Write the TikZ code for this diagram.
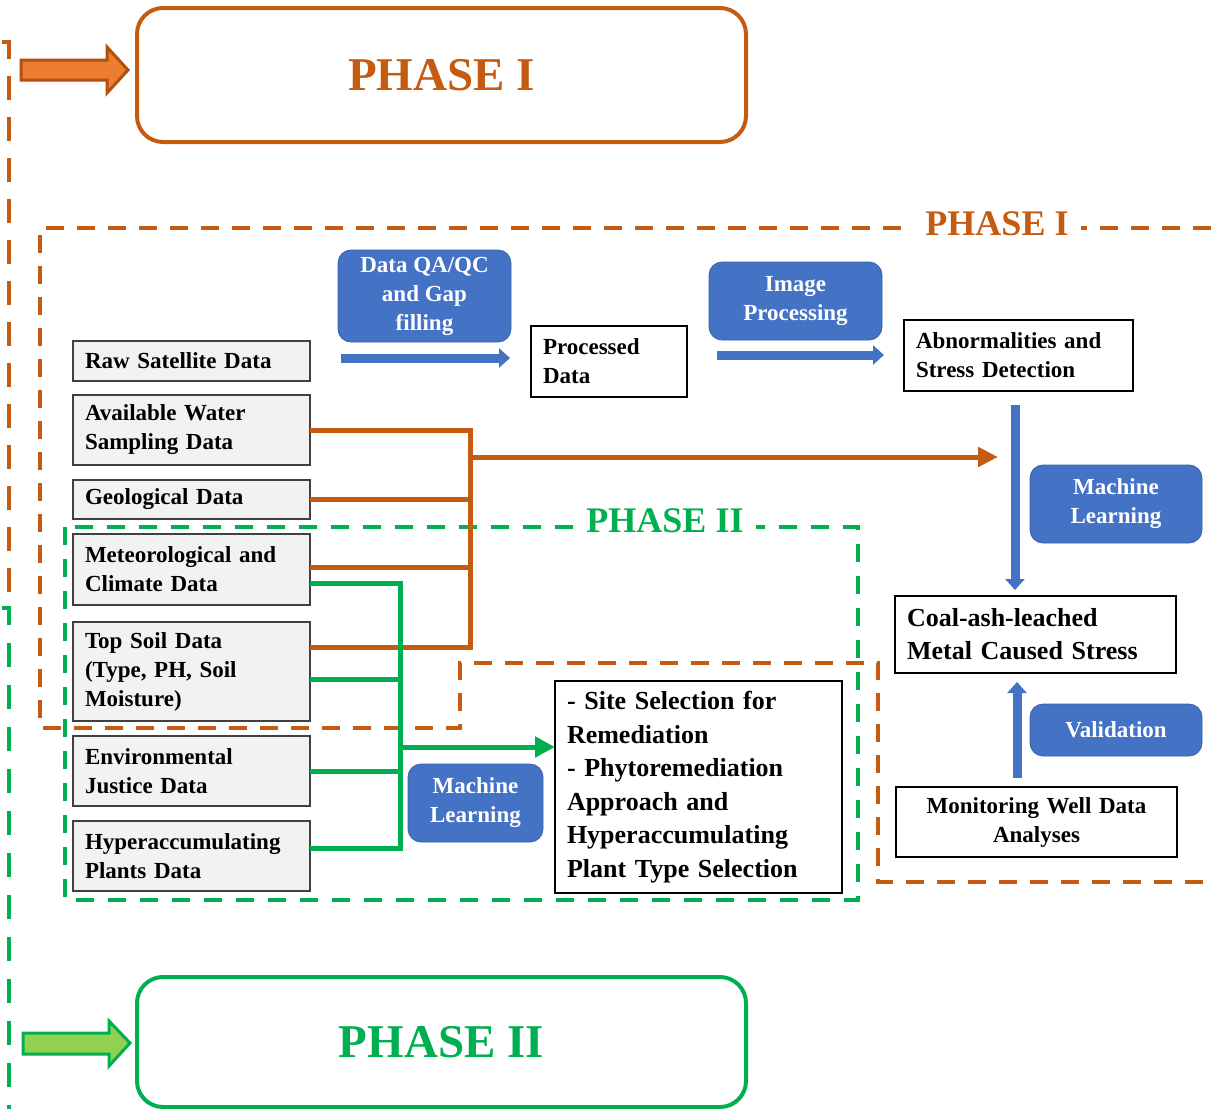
\documentclass[tikz,border=0pt]{standalone}
\usepackage{fontspec}
\setmainfont{Liberation Serif}
\usetikzlibrary{arrows.meta,positioning}
\definecolor{phaseorange}{HTML}{C55A11}
\definecolor{arroworange}{HTML}{ED7D31}
\definecolor{phasegreen}{HTML}{00B050}
\definecolor{arrowgreen}{HTML}{92D050}
\definecolor{boxblue}{HTML}{4472C4}
\definecolor{boxgray}{HTML}{F2F2F2}

\begin{document}
\begin{tikzpicture}[x=1pt,y=-1pt,node distance=15pt,
  font=\bfseries\fontsize{23}{29}\selectfont,
  data node/.style={draw=black!75,fill=boxgray,line width=1.2pt,align=left,
    text width=213pt,inner xsep=12pt,inner ysep=0pt,outer sep=0pt},
  out node/.style={draw=black,fill=white,line width=1.2pt,align=left,
    inner xsep=12pt,inner ysep=0pt,outer sep=0pt},
  blue node/.style={fill=boxblue,draw=boxblue!85!black,line width=0.8pt,
    rounded corners=13pt,text=white,align=center,inner sep=0pt},
  phase box/.style={line width=4pt,rounded corners=26pt,minimum width=609pt,
    font=\bfseries\fontsize{47}{56}\selectfont},
  phase tag/.style={fill=white,inner xsep=12pt,inner ysep=2pt,
    font=\bfseries\fontsize{36}{40}\selectfont},
  odash/.style={draw=phaseorange,line width=4pt,dash pattern=on 18pt off 13pt},
  gdash/.style={draw=phasegreen,line width=4pt,dash pattern=on 18pt off 14pt},
  oline/.style={draw=phaseorange,line width=5pt},
  gline/.style={draw=phasegreen,line width=5pt},
  blue arrow/.style={draw=boxblue,line width=9pt,-{Triangle[length=11pt,width=19pt]}}]

  \useasboundingbox (0,0) rectangle (1211,1109);

  \draw[odash,dash pattern=on 24pt off 17pt] (2,42) -- (9,42) -- (9,595) -- (0,595);
  \draw[gdash,dash pattern=on 24pt off 18pt] (2,608) -- (9,608) -- (9,1109);

  \node[phase box,draw=phaseorange,text=phaseorange,minimum height=134pt] (phase one) at (441.5,75) {PHASE I};
  \node[phase box,draw=phasegreen,text=phasegreen,minimum height=130pt] (phase two) at (441.5,1042) {PHASE II};
  \draw[line width=3pt,draw=phaseorange!90!black,fill=arroworange]
    (21,60) -- (107,60) -- (107,47) -- (128,70) -- (107,93) -- (107,80) -- (21,80) -- cycle;
  \draw[line width=3pt,draw=phasegreen,fill=arrowgreen]
    (23,1033) -- (109,1033) -- (109,1021) -- (130,1043) -- (109,1066) -- (109,1054) -- (23,1054) -- cycle;

  \draw[odash] (1211,228) -- (40,228) -- (40,728) -- (460,728) -- (460,663)
    -- (878,663) -- (878,882) -- (1211,882);
  \draw[gdash] (65,527) rectangle (858,900);
  \node[phase tag,text=phaseorange] (tag one) at (997,224) {PHASE I};
  \node[phase tag,text=phasegreen] (tag two) at (665,521) {PHASE II};

  \node[data node,minimum height=40pt] (raw) at (191.5,361) {Raw Satellite Data};
  \node[data node,minimum height=70pt,below=14pt of raw] (water) {Available Water\\Sampling Data};
  \node[data node,minimum height=39pt,below=of water] (geo) {Geological Data};
  \node[data node,minimum height=71pt,below=of geo] (met) {Meteorological and\\Climate Data};
  \node[data node,minimum height=99pt,below=17pt of met] (soil) {Top Soil Data\\(Type, PH, Soil\\Moisture)};
  \node[data node,minimum height=70pt,below=of soil] (ej) {Environmental\\Justice Data};
  \node[data node,minimum height=70pt,below=of ej] (hyper) {Hyperaccumulating\\Plants Data};

  \node[blue node,minimum width=173pt,minimum height=92pt] (qa) at (424.5,296) {Data QA/QC\\and Gap\\filling};
  \node[blue node,minimum width=173pt,minimum height=78pt] (imgproc) at (795.5,301) {Image\\Processing};
  \node[blue node,minimum width=172pt,minimum height=78pt] (ml right) at (1116,504) {Machine\\Learning};
  \node[blue node,minimum width=172pt,minimum height=52pt] (valid) at (1116,730) {Validation};
  \node[blue node,minimum width=135pt,minimum height=78pt] (ml low) at (475.5,803) {Machine\\Learning};

  \node[out node,text width=132pt,minimum height=71pt] (proc) at (609,361.5) {Processed\\Data};
  \node[out node,text width=205pt,minimum height=71pt] (abn) at (1018.5,355.5) {Abnormalities and\\Stress Detection};
  \node[out node,text width=257pt,minimum height=77pt,font=\bfseries\fontsize{26}{33}\selectfont]
    (coal) at (1035.5,634.5) {Coal-ash-leached\\Metal Caused Stress};
  \node[out node,text width=257pt,minimum height=70pt,align=center] (well) at (1036.5,822) {Monitoring Well Data\\Analyses};
  \node[out node,text width=263pt,minimum height=212pt,font=\bfseries\fontsize{26}{33.5}\selectfont]
    (site) at (698.5,787) {- Site Selection for\\Remediation\\- Phytoremediation\\Approach and\\Hyperaccumulating\\Plant Type Selection};

  \coordinate (obus top) at (470,430);
  \coordinate (obus bot) at (470,647);
  \coordinate (obus mid) at (470,457);
  \coordinate (gbus bot) at (400,848);
  \coordinate (gbus mid) at (400,747);
  \coordinate (qa a) at (341,358);
  \coordinate (img a) at (717,355);
  \coordinate (ml a) at (1015,405);
  \coordinate (val a) at (1017,778);

  \draw[oline] (water.east) -- (obus top) -- (obus bot) -- ([yshift=24.5pt]soil.east);
  \draw[oline] (geo.east) -- ++(160,0);
  \draw[oline] ([yshift=2.5pt]met.east) -- ++(160,0);
  \draw[oline,-{Triangle[length=20pt,width=19pt]},shorten >=17pt] (obus mid) -- (obus mid -| ml a);

  \draw[gline] ([yshift=-13.5pt]met.east) -| (gbus bot) -- ([yshift=8pt]hyper.east);
  \draw[gline] ([yshift=-7.5pt]soil.east) -- ++(90,0);
  \draw[gline] (ej.east) -- ++(90,0);
  \draw[gline,-{Triangle[length=20pt,width=20pt]}] (gbus mid) -- (gbus mid -| site.west);

  \draw[blue arrow,shorten >=21pt] (qa a) -- (qa a -| proc.west);
  \draw[blue arrow,shorten >=20pt] (img a) -- (img a -| abn.west);
  \draw[blue arrow,shorten >=6pt] (ml a) -- (ml a |- coal.north);
  \draw[blue arrow,shorten >=9pt] (val a) -- (val a |- coal.south);

\end{tikzpicture}
\end{document}
